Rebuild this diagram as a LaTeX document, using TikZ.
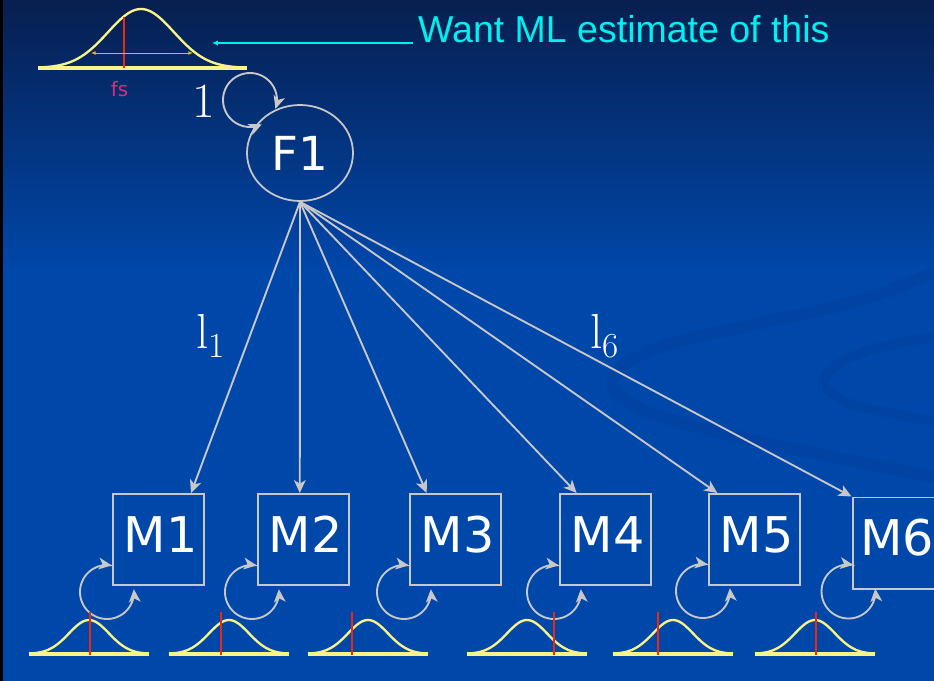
\documentclass[tikz,border=0pt]{standalone}
\usepackage{fontspec}
\newfontfamily\dvs{DejaVu Sans}
\newfontfamily\lib{Liberation Sans}
\usetikzlibrary{arrows.meta,shapes.geometric,calc}
\definecolor{bgtop}{HTML}{071F50}
\definecolor{bgblue}{HTML}{0047AA}
\definecolor{swoosh}{HTML}{0043A2}
\definecolor{lgrey}{HTML}{C8C8C8}
\definecolor{bellyel}{HTML}{F8F488}
\definecolor{redl}{HTML}{F0280F}
\definecolor{cyanl}{HTML}{00F0F0}
\definecolor{pinkl}{HTML}{D8307A}
\definecolor{orl}{HTML}{E8B030}
\tikzset{
  conn/.style={draw=lgrey, line width=1.6pt, -{Stealth[length=11pt,width=10pt,inset=3pt]}},
  loopc/.style={draw=lgrey, line width=1.6pt, {Stealth[length=11pt,width=10pt,inset=3pt]}-{Stealth[length=11pt,width=10pt,inset=3pt]}},
  mbox/.style={draw=lgrey, line width=1.7pt, minimum width=2.73cm, minimum height=2.73cm, inner sep=0pt},
  mtext/.style={text=white, font=\dvs\fontsize{42}{50}\selectfont, inner sep=0pt},
  fnode/.style={ellipse, draw=lgrey, line width=1.5pt, minimum width=3.18cm, minimum height=2.88cm, inner sep=0pt, text=white, font=\dvs\fontsize{40}{48}\selectfont},
  serifl/.style={text=white, font=\fontsize{42}{50}\selectfont, inner sep=0pt},
  bellline/.style={draw=bellyel, line width=2pt, line join=round},
  bellbase/.style={draw=bellyel, line width=2.6pt},
  redline/.style={draw=redl, line width=2.2pt},
}
\newcommand\bellshape[5]{%
  \draw[bellbase] ({#1-#2},#3) -- ({#1+#2},#3);
  \draw[bellline] plot[smooth, domain=-#2:#2, samples=61] ({#1+\x},{#3-#4*exp(-(\x*\x)/(2*(#2/3)*(#2/3)))});
  \draw[redline] (#5,{#3-#4-8}) -- (#5,{#3+1});
}
\begin{document}
\begin{tikzpicture}[x=0.03cm,y=-0.03cm]
\useasboundingbox (0,0) rectangle (934,681);
\clip (0,0) rectangle (934,681);
% background
\shade[top color=bgtop, bottom color=bgblue] (0,0) rectangle (934,270);
\fill[bgblue] (0,269) rectangle (934,681);
\draw[swoosh, line width=10pt, line cap=round] plot[smooth, tension=0.7] coordinates {(960,262) (860,300) (760,323) (660,347) (615,375) (625,400) (680,422) (780,446) (960,482)};
\draw[swoosh, line width=8pt] plot[smooth, tension=0.7] coordinates {(960,333) (870,350) (826,376) (838,398) (880,411) (960,426)};
\fill[black] (0,0) rectangle (3,681);

% top bell
\draw[bellbase, line width=3pt] (38,68) -- (247,68);
\draw[bellline] plot[smooth, domain=-102:102, samples=81] ({141+\x},{68-59*exp(-(\x*\x)/(2*33*33))});
\draw[redline] (124,17) -- (124,68);
\draw[draw=orl, line width=0.8pt, {Latex[length=4pt,width=3.5pt]}-{Latex[length=4pt,width=3.5pt]}] (91,53) -- (193,53);
\node[text=pinkl, font=\dvs\fontsize{17}{20}\selectfont, anchor=base, inner sep=0pt] (fs) at (119.5,97) {fs};

% title text and cyan arrow
\node[text=cyanl, font=\lib\fontsize{32}{38}\selectfont, anchor=base west, inner sep=0pt] (want) at (418,43) {Want ML estimate of this};
\coordinate (wantend) at (413,43);
\coordinate (bellpt) at (212,43);
\draw[draw=cyanl, line width=1.3pt, -{Latex[length=5pt,width=4.5pt]}] (wantend) -- (bellpt);

% F1
\node[fnode] (f1) at (300,153) {F1};
\node[serifl, anchor=base] (one) at (204,118) {1};
\draw[loopc, shift={(f1.center)}] plot[smooth, domain=-19:296, samples=50] ({-50+27*cos(\x)},{-53-27*sin(\x)});

% M boxes
\node[mbox] (m1) at (158.5,539.5) {};
\node[mbox] (m2) at (303.5,539.5) {};
\node[mbox] (m3) at (455.5,539.5) {};
\node[mbox] (m4) at (605.5,539.5) {};
\node[mbox] (m5) at (754.5,539.5) {};
\node[mbox] (m6) at (898,543) {};
\foreach \i in {1,...,5} {
  \node[mtext] (t\i) at ($(m\i.center)+(2,-5)$) {M\i};
}
\node[mtext] (t6) at ($(m6.center)+(-1,-5)$) {M6};

% loadings
\foreach \i/\f in {1/0.85, 2/0.46, 3/0.19, 4/0.19, 5/0.1, 6/0} {
  \draw[conn] (f1.south) -- ($(m\i.north west)!\f!(m\i.north east)$);
}
\node[serifl, anchor=base west] (l1) at (196,348) {l\raisebox{-8.5pt}{\fontsize{30}{30}\selectfont 1}};
\node[serifl, anchor=base west] (l6) at (590,348) {l\raisebox{-8.5pt}{\fontsize{30}{30}\selectfont 6}};

% residual loops
\foreach \i/\dx/\dy in {1/-5/6, 2/-5/6, 3/-5/6, 4/-5/6, 5/-5/5, 6/-3/2} {
  \draw[loopc, shift={(m\i.south west)}] plot[smooth, domain=80:366, samples=50] ({\dx+27*cos(\x)},{\dy-27*sin(\x)});
}

% bottom bells
\bellshape{89}{60}{654}{34}{90}
\bellshape{229}{60}{654}{34}{221}
\bellshape{368}{60}{654}{34}{352}
\bellshape{527}{60}{654}{34}{554}
\bellshape{673}{60}{654}{34}{658}
\bellshape{815}{60}{654}{34}{816}
\end{tikzpicture}
\end{document}
